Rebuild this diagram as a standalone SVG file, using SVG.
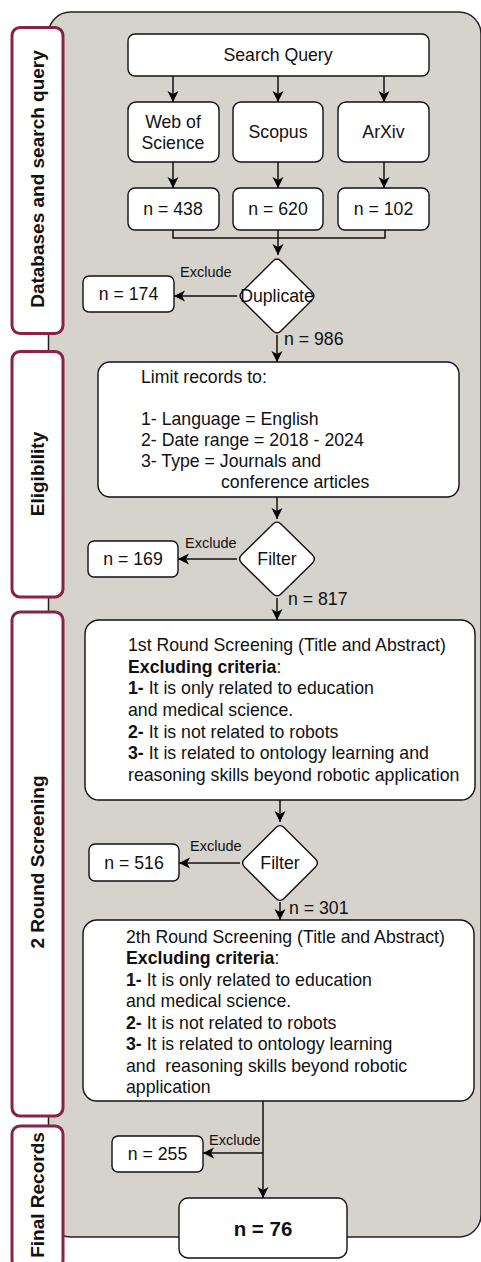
<svg xmlns="http://www.w3.org/2000/svg" width="481" height="1262" viewBox="0 0 481 1262">
  <defs>
    <marker id="arrow" markerUnits="userSpaceOnUse" markerWidth="12" markerHeight="12" refX="11" refY="6" orient="auto">
      <path d="M0,0.5 L11,6 L0,11.5 L3,6 Z" fill="#000"/>
    </marker>
    <style>
      text { font-family: "Liberation Sans", Arial, Helvetica, sans-serif; fill: #111; }
      .box { fill: #fff; stroke: #111; stroke-width: 1.4; }
      .lane { fill: #fff; stroke: #8a2248; stroke-width: 3; }
      .lane-label { font-size: 19px; font-weight: bold; text-anchor: middle; }
      .t { font-size: 17.7px; }
      .c { text-anchor: middle; }
      .ex { font-size: 14.5px; }
      .edge { fill: none; stroke: #111; stroke-width: 1.5; }
      .b { font-weight: bold; }
    </style>
  </defs>

  <!-- grey container -->
  <rect id="container" x="48.5" y="12" width="432.5" height="1225" rx="22" fill="#d6d2cc" stroke="#222" stroke-width="1.5"/>

  <!-- lanes -->
  <g id="lane-databases">
    <rect class="lane" x="12" y="27.5" width="51" height="306" rx="8"/>
    <text class="lane-label" transform="translate(44,179) rotate(-90)">Databases and search query</text>
  </g>
  <g id="lane-eligibility">
    <rect class="lane" x="12" y="351.5" width="51" height="245.5" rx="8"/>
    <text class="lane-label" transform="translate(44,474) rotate(-90)">Eligibility</text>
  </g>
  <g id="lane-screening">
    <rect class="lane" x="12" y="612" width="51" height="504" rx="8"/>
    <text class="lane-label" transform="translate(44,862) rotate(-90)">2 Round Screening</text>
  </g>
  <g id="lane-final">
    <rect class="lane" x="12" y="1126" width="51" height="142" rx="8"/>
    <text class="lane-label" transform="translate(44,1195) rotate(-90)">Final Records</text>
  </g>

  <!-- connectors -->
  <g id="connectors">
    <path class="edge" d="M173,76 V102" marker-end="url(#arrow)"/>
    <path class="edge" d="M278,76 V102" marker-end="url(#arrow)"/>
    <path class="edge" d="M384,76 V102" marker-end="url(#arrow)"/>
    <path class="edge" d="M173,162 V188" marker-end="url(#arrow)"/>
    <path class="edge" d="M278,162 V188" marker-end="url(#arrow)"/>
    <path class="edge" d="M384,162 V188" marker-end="url(#arrow)"/>
    <path class="edge" d="M173,230 V238 H385 V230"/>
    <path class="edge" d="M278,230 V255" marker-end="url(#arrow)"/>
    <path class="edge" d="M237,296 H174" marker-end="url(#arrow)"/>
    <path class="edge" d="M277,335 V362" marker-end="url(#arrow)"/>
    <path class="edge" d="M277,497 V519" marker-end="url(#arrow)"/>
    <path class="edge" d="M237,559 H178" marker-end="url(#arrow)"/>
    <path class="edge" d="M277,598 V620" marker-end="url(#arrow)"/>
    <path class="edge" d="M280,800 V822" marker-end="url(#arrow)"/>
    <path class="edge" d="M240,863 H179" marker-end="url(#arrow)"/>
    <path class="edge" d="M280,902 V920" marker-end="url(#arrow)"/>
    <path class="edge" d="M263,1101 V1198" marker-end="url(#arrow)"/>
    <path class="edge" d="M263,1153 H203" marker-end="url(#arrow)"/>
    <text class="ex" x="180" y="277">Exclude</text>
    <text class="t" x="284" y="345">n = 986</text>
    <text class="ex" x="185" y="548">Exclude</text>
    <text class="t" x="288" y="605">n = 817</text>
    <text class="ex" x="190" y="851">Exclude</text>
    <text class="t" x="289" y="914">n = 301</text>
    <text class="ex" x="209" y="1145">Exclude</text>
  </g>

  <!-- databases -->
  <g id="search-query">
    <rect class="box" x="128" y="34" width="301" height="42" rx="7"/>
    <text class="t c" x="278" y="61">Search Query</text>
  </g>
  <g id="web-of-science">
    <rect class="box" x="128" y="102" width="91" height="60" rx="8"/>
    <text class="t c" x="173" y="128">Web of</text>
    <text class="t c" x="173" y="149">Science</text>
  </g>
  <g id="scopus">
    <rect class="box" x="233" y="102" width="90" height="60" rx="8"/>
    <text class="t c" x="278" y="138">Scopus</text>
  </g>
  <g id="arxiv">
    <rect class="box" x="338" y="102" width="91" height="60" rx="8"/>
    <text class="t c" x="383.5" y="138">ArXiv</text>
  </g>
  <g id="n-438">
    <rect class="box" x="128" y="188" width="91" height="42" rx="7"/>
    <text class="t c" x="173" y="215">n = 438</text>
  </g>
  <g id="n-620">
    <rect class="box" x="233" y="188" width="90" height="42" rx="7"/>
    <text class="t c" x="278" y="215">n = 620</text>
  </g>
  <g id="n-102">
    <rect class="box" x="338" y="188" width="91" height="42" rx="7"/>
    <text class="t c" x="383.5" y="215">n = 102</text>
  </g>

  <!-- duplicate removal -->
  <g id="duplicate">
    <path class="box" d="M272.8,261.2 Q277,257 281.2,261.2 L311.8,291.8 Q316,296 311.8,300.2 L281.2,330.8 Q277,335 272.8,330.8 L242.2,300.2 Q238,296 242.2,291.8 Z"/>
    <text class="t c" x="277" y="302">Duplicate</text>
  </g>
  <g id="n-174">
    <rect class="box" x="83" y="276" width="91" height="36" rx="6"/>
    <text class="t c" x="128.5" y="300">n = 174</text>
  </g>

  <!-- eligibility -->
  <g id="limit-records">
    <rect class="box" x="98" y="362" width="361" height="135" rx="12"/>
    <text class="t" x="141" y="383">Limit records to:</text>
    <text class="t" x="141" y="425">1- Language = English</text>
    <text class="t" x="141" y="446">2- Date range = 2018 - 2024</text>
    <text class="t" x="141" y="467">3- Type = Journals and</text>
    <text class="t" x="221" y="488">conference articles</text>
  </g>
  <g id="filter-1">
    <path class="box" d="M272.8,524.2 Q277,520 281.2,524.2 L312.3,554.8 Q316.5,559 312.3,563.2 L281.2,593.8 Q277,598 272.8,593.8 L241.7,563.2 Q237.5,559 241.7,554.8 Z"/>
    <text class="t c" x="277" y="565">Filter</text>
  </g>
  <g id="n-169">
    <rect class="box" x="88" y="541" width="90" height="36" rx="6"/>
    <text class="t c" x="133" y="565">n = 169</text>
  </g>

  <!-- screening -->
  <g id="screening-1">
    <rect class="box" x="85" y="620" width="390" height="180" rx="14"/>
    <text class="t" x="128" y="651">1st Round Screening (Title and Abstract)</text>
    <text class="t" x="128" y="672.7"><tspan class="b">Excluding criteria</tspan>:</text>
    <text class="t" x="128" y="694.3"><tspan class="b">1-</tspan> It is only related to education</text>
    <text class="t" x="128" y="716">and medical science.</text>
    <text class="t" x="128" y="737.7"><tspan class="b">2-</tspan> It is not related to robots</text>
    <text class="t" x="128" y="759.3"><tspan class="b">3-</tspan> It is related to ontology learning and</text>
    <text class="t" x="128" y="781">reasoning skills beyond robotic application</text>
  </g>
  <g id="filter-2">
    <path class="box" d="M275.8,827.7 Q280,823.5 284.2,827.7 L315.3,858.8 Q319.5,863 315.3,867.2 L284.2,898.3 Q280,902.5 275.8,898.3 L244.7,867.2 Q240.5,863 244.7,858.8 Z"/>
    <text class="t c" x="280" y="869">Filter</text>
  </g>
  <g id="n-516">
    <rect class="box" x="89" y="844" width="90" height="37" rx="6"/>
    <text class="t c" x="134" y="869">n = 516</text>
  </g>
  <g id="screening-2">
    <rect class="box" x="83" y="920" width="391" height="181" rx="14"/>
    <text class="t" x="126" y="943">2th Round Screening (Title and Abstract)</text>
    <text class="t" x="126" y="964.4"><tspan class="b">Excluding criteria</tspan>:</text>
    <text class="t" x="126" y="985.9"><tspan class="b">1-</tspan> It is only related to education</text>
    <text class="t" x="126" y="1007.3">and medical science.</text>
    <text class="t" x="126" y="1028.7"><tspan class="b">2-</tspan> It is not related to robots</text>
    <text class="t" x="126" y="1050.1"><tspan class="b">3-</tspan> It is related to ontology learning</text>
    <text class="t" x="126" y="1071.6" xml:space="preserve">and  reasoning skills beyond robotic</text>
    <text class="t" x="126" y="1093">application</text>
  </g>

  <!-- final records -->
  <g id="n-255">
    <rect class="box" x="112" y="1136" width="91" height="36" rx="6"/>
    <text class="t c" x="157.5" y="1160">n = 255</text>
  </g>
  <g id="n-76">
    <rect class="box" x="179" y="1198" width="168" height="60" rx="9"/>
    <text class="c b" x="263" y="1236" style="font-size:20.5px">n = 76</text>
  </g>
</svg>
